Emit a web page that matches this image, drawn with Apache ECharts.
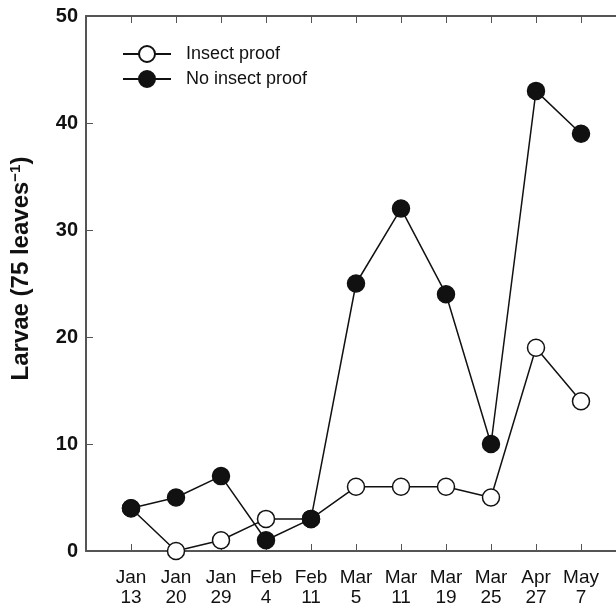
<!DOCTYPE html>
<html>
<head>
<meta charset="utf-8">
<script src="https://cdn.jsdelivr.net/npm/echarts@6/dist/echarts.min.js"></script>
<style>
    html, body {margin: 0; padding: 0; background: #fff;}
    #chart {width: 616px; height: 603px;}
</style>
</head>
<body>
<div id="chart"></div>
<script>
// sample dates (blank at both ends so the axis runs one step past the data)
let months = ['Jan', 'Jan', 'Jan', 'Feb', 'Feb', 'Mar', 'Mar', 'Mar', 'Mar', 'Apr', 'May']
let days = ['13', '20', '29', '4', '11', '5', '11', '19', '25', '27', '7']
let insectProof = [4, 0, 1, 3, 3, 6, 6, 6, 5, 19, 14]
let noInsectProof = [4, 5, 7, 1, 3, 25, 32, 24, 10, 43, 39]
let yTicks = [0, 10, 20, 30, 40, 50]

let cats = ['']
for (let i = 0; i < months.length; i++) {
    cats.push(months[i] + '\n' + days[i])
}
cats.push('')

let axisColor = '#555'
let chart = echarts.init(document.getElementById('chart'))
let option = {
    animation: false,
    backgroundColor: '#fff',
    grid: {
        left: 86,
        top: 16,
        right: -10,
        bottom: 52,
        outerBoundsMode: 'none'
    },
    legend: {
        orient: 'vertical',
        left: 117,
        top: 40,
        itemWidth: 48,
        itemHeight: 20,
        itemGap: 7,
        textStyle: {
            fontFamily: 'Liberation Sans, Arial',
            fontSize: 18,
            color: '#111',
            padding: [0, 0, 0, 10]
        },
        data: ['Insect proof', 'No insect proof']
    },
    xAxis: [{
        type: 'category',
        boundaryGap: false,
        data: cats,
        axisLine: {lineStyle: {color: axisColor, width: 2}},
        axisTick: {inside: true, length: 7, lineStyle: {color: axisColor, width: 1}},
        axisLabel: {
            interval: 0,
            margin: 17,
            fontFamily: 'Liberation Sans, Arial',
            fontSize: 19,
            lineHeight: 20,
            color: '#111'
        },
        splitLine: {show: false}
    }, {
        type: 'category',
        position: 'top',
        boundaryGap: false,
        data: cats,
        axisLine: {lineStyle: {color: axisColor, width: 2}},
        axisTick: {inside: true, length: 7, lineStyle: {color: axisColor, width: 1}},
        axisLabel: {show: false},
        splitLine: {show: false}
    }],
    yAxis: {
        type: 'value',
        min: yTicks[0],
        max: yTicks[yTicks.length - 1],
        interval: 10,
        name: '{b|Larvae (75 leaves}{s|−1}{b|)}',
        nameLocation: 'middle',
        nameGap: 51,
        nameTextStyle: {
            padding: [0, 0, 0, 30],
            rich: {
                b: {
                    fontFamily: 'Liberation Sans, Arial',
                    fontSize: 24,
                    fontWeight: 'bold',
                    color: '#111',
                    lineHeight: 26
                },
                s: {
                    fontFamily: 'Liberation Sans, Arial',
                    fontSize: 15,
                    fontWeight: 'bold',
                    color: '#111',
                    padding: [0, 0, 12, 0]
                }
            }
        },
        axisLine: {show: true, lineStyle: {color: axisColor, width: 2}},
        axisTick: {show: true, inside: true, length: 7, lineStyle: {color: axisColor, width: 1}},
        axisLabel: {
            margin: 8,
            fontFamily: 'Liberation Sans, Arial',
            fontSize: 20,
            fontWeight: 'bold',
            color: '#111'
        },
        splitLine: {show: false}
    },
    series: [{
        name: 'Insect proof',
        type: 'line',
        data: [null].concat(insectProof),
        symbol: 'circle',
        symbolSize: 17,
        lineStyle: {color: '#111', width: 1.5},
        itemStyle: {color: '#fff', borderColor: '#111', borderWidth: 1.5},
        z: 2
    }, {
        name: 'No insect proof',
        type: 'line',
        data: [null].concat(noInsectProof),
        symbol: 'circle',
        symbolSize: 17,
        lineStyle: {color: '#111', width: 1.5},
        itemStyle: {color: '#111', borderColor: '#111', borderWidth: 1.5},
        z: 3
    }]
}
chart.setOption(option)
</script>
</body>
</html>
